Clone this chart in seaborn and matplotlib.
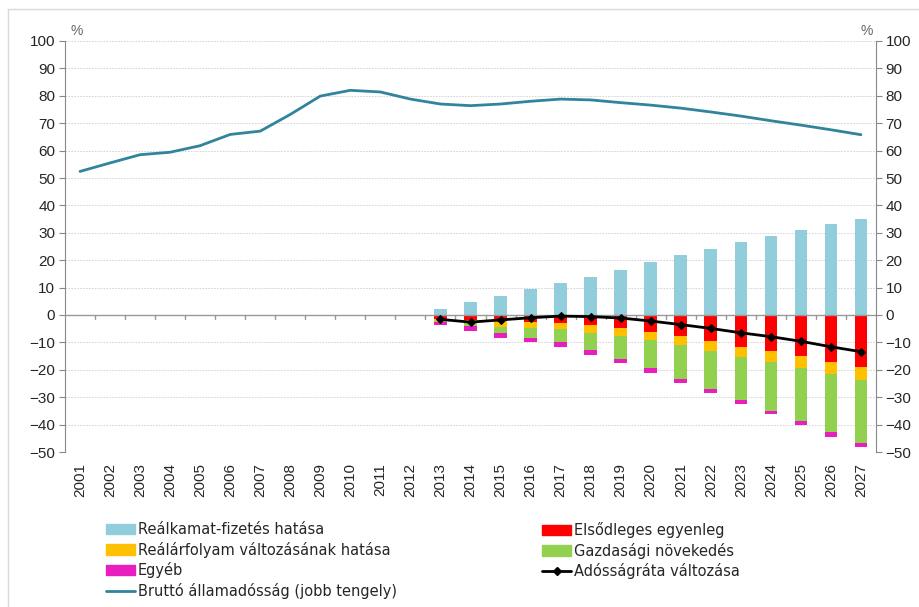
import numpy as np
import pandas as pd
import matplotlib
matplotlib.use("Agg")
import matplotlib.pyplot as plt
import seaborn as sns
from matplotlib.lines import Line2D
from matplotlib.patches import Patch

years = [str(y) for y in range(2001, 2028)]
bar_years = [str(y) for y in range(2013, 2028)]

# debt decomposition (percentage points), 2013-2027
realkamat = [2.1, 4.6, 6.8, 9.4, 11.6, 14.0, 16.6, 19.4, 21.8, 24.0, 26.5, 28.8, 31.0, 33.3, 35.0]
elsodleges = [-1.3, -1.8, -2.2, -2.6, -2.9, -3.7, -4.8, -6.1, -7.8, -9.5, -11.5, -13.2, -15.1, -17.3, -19.1]
arfolyam = [-1.0, -0.3, -2.1, -2.2, -2.3, -2.8, -2.7, -3.2, -3.3, -3.7, -3.8, -4.1, -4.3, -4.3, -4.8]
gazdasagi = [-0.4, -2.0, -2.4, -3.5, -4.6, -6.3, -8.7, -10.1, -12.2, -13.9, -15.6, -17.7, -19.4, -21.2, -22.7]
egyeb = [-1.0, -1.6, -1.6, -1.7, -1.7, -1.7, -1.5, -1.7, -1.4, -1.5, -1.5, -1.3, -1.5, -1.6, -1.6]
adossagrata = [-1.6, -2.6, -1.8, -1.0, -0.4, -0.6, -1.1, -2.2, -3.5, -4.9, -6.5, -7.9, -9.6, -11.6, -13.4]

# gross public debt, % of GDP (right axis)
brutto = [52.4, 55.5, 58.5, 59.4, 61.8, 65.9, 67.1, 73.2, 79.9, 82.0, 81.4, 78.8, 77.0,
          76.4, 77.0, 78.0, 78.8, 78.5, 77.5, 76.6, 75.5, 74.1, 72.6, 70.9, 69.3, 67.6, 65.8]

c_blue = "#92CDDC"
c_red = "#FF0000"
c_yellow = "#FFC000"
c_green = "#92D050"
c_pink = "#E81EBE"
c_teal = "#31849B"

sns.set_style("white")
plt.rcParams["font.family"] = ["Liberation Sans", "DejaVu Sans"]

df = pd.DataFrame({"year": bar_years, "realkamat": realkamat, "elsodleges": elsodleges,
                   "arfolyam": arfolyam, "gazdasagi": gazdasagi, "egyeb": egyeb})
# cumulative sums so the negative parts stack downwards
df["s1"] = df["elsodleges"]
df["s2"] = df["s1"] + df["arfolyam"]
df["s3"] = df["s2"] + df["gazdasagi"]
df["s4"] = df["s3"] + df["egyeb"]

fig = plt.figure(figsize=(9.19, 6.07), dpi=100)
ax = fig.add_axes([65 / 919, 155 / 607, 811 / 919, 411 / 607])

bw = 0.42
for col, color in [("s4", c_pink), ("s3", c_green), ("s2", c_yellow), ("s1", c_red)]:
    sns.barplot(data=df, x="year", y=col, order=years, color=color, width=bw,
                saturation=1, ax=ax, linewidth=0)
sns.barplot(data=df, x="year", y="realkamat", order=years, color=c_blue, width=bw,
            saturation=1, ax=ax, linewidth=0)

pos = [years.index(y) for y in bar_years]
sns.lineplot(x=pos, y=adossagrata, ax=ax, color="black", linewidth=2, marker="D",
             markersize=4.5, markeredgecolor="black", zorder=5)

ax.set_xlim(-0.5, len(years) - 0.5)
ax.set_ylim(-50, 100)
ax.set_yticks(np.arange(-50, 101, 10))
ax.set_xlabel("")
ax.set_ylabel("")
ax.grid(axis="y", color="#CFCFCF", linestyle=(0, (2, 1.5)), linewidth=0.6)
ax.set_axisbelow(True)
ax.axhline(0, color="#999999", linewidth=1, zorder=3)
for b in np.arange(0.5, len(years) - 0.5, 1):
    ax.plot([b, b], [0, -1.3], color="#999999", linewidth=1, zorder=3)
ax.set_xticks(range(len(years)))
ax.set_xticklabels(years, rotation=90, fontsize=11)
ax.tick_params(axis="x", length=0, pad=8)
ax.tick_params(axis="y", labelsize=11, length=4, color="#888888", direction="out", left=True, pad=3)
for s in ["top", "bottom", "right"]:
    ax.spines[s].set_visible(False)
ax.spines["left"].set_color("#888888")

ax2 = ax.twinx()
sns.lineplot(x=list(range(len(years))), y=brutto, ax=ax2, color=c_teal, linewidth=2)
ax2.set_ylim(-50, 100)
ax2.set_yticks(np.arange(-50, 101, 10))
ax2.tick_params(axis="y", labelsize=11, length=4, color="#888888", direction="out", right=True, pad=3)
ax2.set_ylabel("")
for s in ["top", "bottom", "left"]:
    ax2.spines[s].set_visible(False)
ax2.spines["right"].set_color("#888888")
ax2.grid(False)

fig.text(77 / 919, 1 - 31 / 607, "%", fontsize=10, color="#666666", ha="center", va="center")
fig.text(867 / 919, 1 - 31 / 607, "%", fontsize=10, color="#666666", ha="center", va="center")

leg_font = {"family": "DejaVu Sans", "size": 10.5}
h_left = [Patch(color=c_blue), Patch(color=c_yellow), Patch(color=c_pink),
          Line2D([], [], color=c_teal, linewidth=2)]
l_left = ["Reálkamat-fizetés hatása", "Reálárfolyam változásának hatása", "Egyéb",
          "Bruttó államadósság (jobb tengely)"]
h_right = [Patch(color=c_red), Patch(color=c_green),
           Line2D([], [], color="black", linewidth=2, marker="D", markersize=4)]
l_right = ["Elsődleges egyenleg", "Gazdasági növekedés", "Adósságráta változása"]
kw = dict(frameon=False, prop=leg_font, handlelength=2.0, handleheight=0.7,
          handletextpad=0.2, labelspacing=0.32, borderaxespad=0, borderpad=0)
fig.legend(h_left, l_left, loc="upper left", bbox_to_anchor=(106 / 919, 1 - 522 / 607), **kw)
fig.legend(h_right, l_right, loc="upper left", bbox_to_anchor=(542 / 919, 1 - 522 / 607), **kw)

# light frame around the chart
fig.add_artist(Line2D([8 / 919, 8 / 919], [0, 1 - 9 / 607], color="#D9D9D9", linewidth=1))
fig.add_artist(Line2D([8 / 919, 1], [1 - 9 / 607, 1 - 9 / 607], color="#D9D9D9", linewidth=1))

fig.savefig("out.png", dpi=100)
